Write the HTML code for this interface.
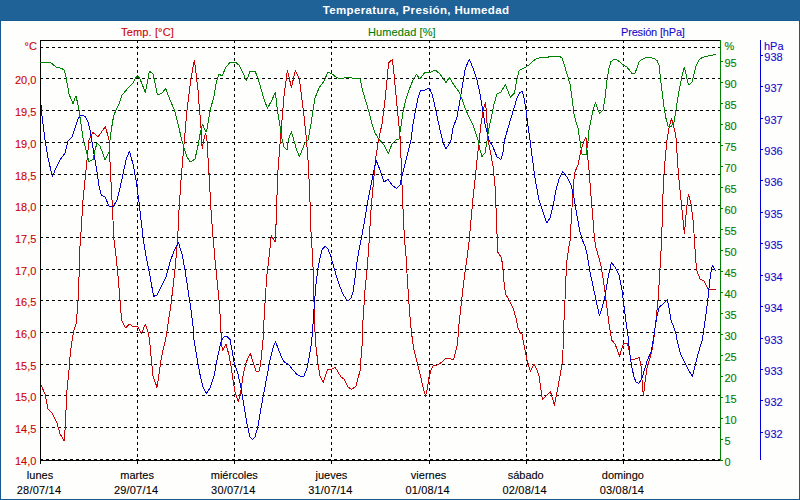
<!DOCTYPE html>
<html><head><meta charset="utf-8"><title>Temperatura, Presión, Humedad</title>
<style>
html,body{margin:0;padding:0;}
body{width:800px;height:500px;overflow:hidden;background:#17588e;position:relative;font-family:"Liberation Sans",sans-serif;font-size:11px;line-height:13px;}
#hdr{position:absolute;left:0;top:0;width:800px;height:20px;background:#1f6298;}
#hdr2{position:absolute;left:0;top:20px;width:800px;height:1px;background:#195a90;}
#pane{position:absolute;left:1px;top:21px;width:798px;height:478px;background:#fefefd;}
.t{position:absolute;white-space:nowrap;}
#title{left:216px;width:400px;top:4px;text-align:center;color:#fff;font-weight:bold;font-size:11.5px;letter-spacing:0.36px;}
.r{color:#cc0000;-webkit-text-stroke:0.1px #cc0000;} .g{color:#007c00;-webkit-text-stroke:0.1px #007c00;} .b{color:#1808cc;-webkit-text-stroke:0.1px #1808cc;} .k{color:#000;-webkit-text-stroke:0.1px #000;}
.la{width:36.4px;left:0;text-align:right;}
.c{text-align:center;width:80px;}
svg{position:absolute;left:0;top:0;}
</style></head><body>
<div id="hdr"></div><div id="hdr2"></div><div id="pane"></div>
<div id="title" class="t">Temperatura, Presión, Humedad</div>

<svg width="800" height="500" viewBox="0 0 800 500" shape-rendering="crispEdges">
<g stroke="#000" stroke-width="1" stroke-dasharray="3,3" fill="none">
<line x1="40" y1="459.5" x2="720" y2="459.5"/>
<line x1="40" y1="427.5" x2="720" y2="427.5"/>
<line x1="40" y1="395.5" x2="720" y2="395.5"/>
<line x1="40" y1="364.5" x2="720" y2="364.5"/>
<line x1="40" y1="332.5" x2="720" y2="332.5"/>
<line x1="40" y1="300.5" x2="720" y2="300.5"/>
<line x1="40" y1="269.5" x2="720" y2="269.5"/>
<line x1="40" y1="237.5" x2="720" y2="237.5"/>
<line x1="40" y1="205.5" x2="720" y2="205.5"/>
<line x1="40" y1="174.5" x2="720" y2="174.5"/>
<line x1="40" y1="142.5" x2="720" y2="142.5"/>
<line x1="40" y1="110.5" x2="720" y2="110.5"/>
<line x1="40" y1="78.5" x2="720" y2="78.5"/>
<line x1="40" y1="47.5" x2="720" y2="47.5"/>
<line x1="137.5" y1="40" x2="137.5" y2="460"/>
<line x1="234.5" y1="40" x2="234.5" y2="460"/>
<line x1="331.5" y1="40" x2="331.5" y2="460"/>
<line x1="429.5" y1="40" x2="429.5" y2="460"/>
<line x1="526.5" y1="40" x2="526.5" y2="460"/>
<line x1="623.5" y1="40" x2="623.5" y2="460"/>
</g>
<g stroke="#000" stroke-width="1" fill="none">
<line x1="40" y1="40.5" x2="720" y2="40.5"/>
<line x1="40.5" y1="40" x2="40.5" y2="461"/>
<line x1="40" y1="460.5" x2="720" y2="460.5"/>
<line x1="40.5" y1="461" x2="40.5" y2="464"/>
<line x1="137.5" y1="461" x2="137.5" y2="464"/>
<line x1="234.5" y1="461" x2="234.5" y2="464"/>
<line x1="331.5" y1="461" x2="331.5" y2="464"/>
<line x1="429.5" y1="461" x2="429.5" y2="464"/>
<line x1="526.5" y1="461" x2="526.5" y2="464"/>
<line x1="623.5" y1="461" x2="623.5" y2="464"/>
</g>
<polyline points="41.0,385.0 45.0,394.0 48.0,409.0 52.0,413.0 57.0,423.0 60.0,434.0 64.4,441.0 65.0,430.0 66.0,410.0 67.0,390.0 69.0,370.0 70.4,352.0 72.0,341.0 74.0,330.0 76.0,324.0 77.4,310.0 78.6,290.0 79.4,266.0 80.0,246.0 80.5,240.0 83.0,200.0 86.0,170.0 89.0,140.0 93.0,132.4 98.0,137.0 105.4,126.4 109.0,140.0 110.4,170.0 112.0,200.0 114.0,240.0 116.0,256.0 118.0,276.0 120.0,300.0 121.6,320.0 125.4,328.0 129.4,324.0 133.4,327.0 137.4,326.0 141.4,333.6 145.4,324.0 148.0,332.0 149.6,340.0 151.0,356.0 153.0,376.0 157.0,387.4 159.0,374.0 161.0,360.0 163.0,350.0 165.6,340.0 168.0,324.0 171.0,304.0 173.4,284.0 175.4,266.0 177.0,246.0 177.6,240.0 179.0,210.0 181.0,180.0 183.0,156.0 184.4,140.0 187.0,110.0 191.0,78.0 194.4,60.0 198.0,90.0 198.6,100.0 199.8,112.0 201.0,127.6 201.6,142.0 202.3,148.6 203.4,142.0 204.6,136.0 205.8,133.6 207.0,140.8 207.6,154.0 208.2,160.0 209.4,180.0 211.0,210.0 212.4,230.0 213.3,240.0 215.0,260.0 217.0,280.0 219.0,300.0 220.4,320.0 221.4,340.0 222.4,351.0 226.0,344.4 229.0,355.0 231.0,366.0 233.0,380.0 235.0,392.0 238.4,402.0 241.0,390.0 243.0,376.0 245.6,364.0 248.0,358.0 250.4,353.6 253.0,362.0 256.0,371.0 259.4,371.0 261.0,360.0 262.4,346.0 263.0,340.0 264.0,320.0 265.4,296.0 267.0,274.0 268.4,263.0 269.4,253.4 270.4,244.0 271.3,235.6 275.2,242.4 275.6,231.0 276.6,215.0 276.8,200.0 278.0,170.0 280.0,144.0 280.5,140.0 282.0,120.0 284.0,96.0 287.4,70.4 291.4,87.4 295.4,70.4 299.4,79.0 302.0,100.0 304.0,116.0 306.5,140.0 308.0,160.0 309.6,190.0 310.6,220.0 311.3,240.0 312.4,252.0 313.4,276.0 314.0,302.0 314.6,320.0 315.3,340.0 316.6,352.0 318.0,364.0 320.0,376.0 323.4,382.4 325.0,377.0 327.4,370.0 332.0,369.0 335.4,367.6 338.0,372.0 341.0,377.0 344.0,379.0 348.0,387.0 351.6,389.6 356.0,386.0 358.0,378.0 360.0,371.0 361.0,358.0 362.0,346.0 362.4,340.0 363.0,320.0 365.0,290.0 367.0,270.0 368.4,252.0 369.2,240.0 371.0,210.0 374.0,176.0 376.0,156.0 378.5,140.0 382.0,124.0 385.0,100.0 387.0,80.0 388.6,63.0 392.4,59.4 394.4,78.0 397.0,106.0 399.0,126.0 400.4,140.0 401.4,170.0 402.6,200.0 404.0,230.0 404.6,240.0 406.0,256.0 407.4,280.0 409.0,304.0 410.6,324.0 412.4,340.0 414.0,350.0 417.0,362.0 420.0,374.0 423.0,387.0 425.6,396.4 427.4,388.0 429.0,377.0 431.0,370.0 433.4,365.6 437.0,365.0 440.0,363.6 443.0,361.0 446.0,358.4 450.0,358.4 453.4,360.0 455.0,354.0 457.0,346.0 457.8,340.0 459.0,324.0 461.0,306.0 463.0,288.0 465.0,272.0 467.0,258.0 469.2,240.0 471.0,220.0 473.0,198.0 475.0,180.0 477.0,160.0 479.2,140.0 481.0,124.0 483.4,109.0 485.4,102.4 486.4,112.0 488.0,140.0 490.0,150.0 493.0,166.0 495.0,186.0 496.4,216.0 497.2,240.0 497.6,252.0 501.6,258.0 503.0,270.0 504.4,286.0 505.6,294.0 509.0,300.0 513.0,308.0 516.0,318.0 518.0,328.0 520.0,332.5 522.0,334.0 523.0,340.0 525.0,350.0 527.0,360.0 530.4,371.6 534.0,364.4 537.0,370.0 539.0,376.0 541.0,390.0 542.4,399.4 546.0,396.0 550.4,391.6 552.4,398.0 554.4,405.6 557.0,392.0 560.0,376.0 562.0,364.0 563.0,350.0 563.4,340.0 564.0,320.0 565.0,300.0 566.0,276.0 567.0,260.0 569.0,246.0 570.2,240.0 571.4,216.0 573.0,194.0 574.4,173.0 578.0,165.0 581.0,150.0 584.5,140.0 586.0,137.6 587.0,150.0 589.0,170.0 591.0,196.0 593.0,220.0 594.6,240.0 596.0,248.0 599.0,258.0 601.0,266.0 603.0,278.0 605.0,292.0 607.0,308.0 609.0,324.0 611.0,336.0 611.6,340.0 615.0,344.0 617.0,349.0 619.4,356.4 621.4,350.0 623.4,343.6 627.4,343.6 629.0,350.0 631.0,359.4 635.0,359.0 639.4,357.4 641.0,366.0 642.0,380.0 643.4,396.0 645.0,382.0 647.0,368.0 650.0,358.0 652.0,350.0 653.6,340.0 656.0,320.0 658.0,300.0 659.4,280.0 660.4,260.0 661.4,246.0 661.7,240.0 662.2,220.0 663.0,194.0 664.0,174.0 665.4,156.0 667.0,140.0 669.0,128.0 671.4,118.4 673.0,124.0 675.0,132.0 676.3,140.0 677.4,160.0 679.0,180.0 681.0,200.0 682.6,216.0 684.4,234.0 686.4,210.0 688.4,194.0 691.0,204.0 693.0,220.0 694.5,240.0 695.4,256.0 696.6,270.0 700.0,279.0 704.0,281.0 706.0,285.0 708.6,289.6 712.0,289.0 715.6,289.0" fill="none" stroke="#cc0000" stroke-width="1" stroke-linejoin="bevel"/>
<polyline points="41.0,105.0 42.4,120.0 43.0,124.0 45.0,140.0 48.0,158.0 52.4,176.4 56.0,168.0 60.0,160.0 65.0,153.0 68.0,141.0 72.0,137.0 75.0,128.0 78.0,119.0 81.0,115.0 85.0,116.4 88.0,122.0 90.0,130.0 91.6,140.0 94.0,154.0 97.0,172.0 99.0,186.0 101.4,195.0 105.0,197.0 109.0,206.0 113.0,207.0 117.0,200.0 120.0,188.0 123.0,174.0 126.0,160.0 129.4,151.0 133.0,164.0 136.0,180.0 139.0,202.0 141.0,220.0 143.4,240.0 146.0,256.0 150.0,276.0 153.6,296.4 157.0,295.0 162.0,285.0 166.0,277.0 170.0,262.0 174.0,251.0 178.4,242.4 182.0,254.0 185.0,270.0 188.0,290.0 191.0,310.0 193.0,326.0 194.0,340.0 196.0,352.0 198.0,364.0 200.0,374.5 203.0,387.0 206.4,393.6 210.0,388.0 214.0,376.0 217.0,360.0 220.0,346.0 221.6,340.0 224.0,337.0 227.0,336.6 230.0,339.5 232.0,350.0 234.0,362.0 238.0,374.0 241.0,388.0 244.0,406.0 247.0,424.0 250.0,437.0 252.4,439.6 255.0,437.0 258.0,426.0 261.0,408.0 264.0,392.0 267.0,376.0 270.0,360.0 273.0,348.0 275.4,341.6 278.0,348.0 281.0,356.0 284.0,361.6 289.0,365.0 293.0,370.0 297.0,374.4 301.0,376.6 304.0,376.0 307.0,368.0 309.0,358.0 311.0,346.0 311.8,340.0 313.0,324.0 314.4,304.0 316.0,284.0 318.0,268.0 320.0,258.0 322.4,249.0 325.0,246.4 328.0,249.0 331.0,257.0 334.0,268.0 337.0,278.0 340.0,287.0 343.0,294.0 346.0,299.0 348.4,301.0 351.0,298.0 353.0,292.0 355.0,278.0 357.0,262.0 359.0,250.0 360.0,245.0 361.0,240.0 364.0,224.0 368.0,200.0 372.0,180.0 376.0,160.0 380.0,170.0 384.0,182.0 388.0,179.4 392.0,185.0 396.4,188.4 400.0,185.0 403.0,172.0 407.0,156.0 411.0,140.0 413.0,124.0 416.0,108.0 418.0,98.0 420.4,91.0 425.0,90.0 429.4,88.0 432.0,94.0 434.0,102.0 437.0,116.0 440.0,130.0 442.4,140.0 445.6,149.0 450.0,143.0 451.0,140.0 453.0,128.0 457.0,117.0 460.0,100.0 463.0,82.0 465.4,68.0 469.4,59.4 473.0,68.0 477.0,80.0 480.0,94.0 482.0,106.0 485.0,124.0 488.0,136.0 489.0,140.0 493.0,147.0 497.0,157.0 501.0,159.4 503.0,152.0 504.6,140.0 508.0,128.0 511.0,118.0 514.0,108.0 517.0,98.0 520.0,92.2 522.4,91.6 524.0,98.0 526.0,110.0 528.0,126.0 530.0,139.5 532.0,156.0 535.0,178.0 539.0,200.0 543.0,212.0 546.6,223.0 550.0,218.0 553.0,206.0 556.0,190.0 559.0,179.0 562.6,171.4 567.0,177.0 571.0,185.0 574.0,198.0 577.0,216.0 580.0,232.0 582.4,240.0 585.0,246.0 587.4,256.0 590.0,272.0 593.0,286.0 596.0,300.0 599.4,315.6 602.4,307.0 605.0,296.0 608.0,278.0 611.4,262.4 615.0,267.0 619.0,275.0 622.0,290.0 624.0,306.0 626.0,322.0 628.0,336.0 628.5,340.0 629.6,352.0 631.6,366.0 634.0,377.0 636.0,382.0 639.0,383.4 642.0,378.0 645.0,368.0 647.4,360.0 651.0,352.0 652.6,344.0 653.2,340.0 655.0,328.0 657.0,316.0 659.4,307.0 663.0,304.0 667.4,299.4 669.0,308.0 671.0,320.0 674.0,328.0 676.0,334.0 677.0,340.0 679.0,348.0 681.0,355.0 684.0,361.0 688.0,369.0 692.4,376.4 695.0,366.0 698.0,354.0 701.0,344.0 702.4,340.0 704.0,328.0 706.0,314.0 708.0,298.0 709.4,284.0 711.0,272.0 712.4,265.6 714.0,268.0 715.6,271.0" fill="none" stroke="#0000d4" stroke-width="1" stroke-linejoin="bevel"/>
<polyline points="40.0,62.4 44.0,63.0 49.0,62.0 52.0,63.6 56.0,67.0 60.0,68.0 64.0,69.6 66.0,77.0 69.0,94.0 73.0,103.6 76.0,95.6 79.0,110.0 81.0,124.0 83.3,140.0 86.0,150.0 89.0,161.6 93.0,159.6 95.0,150.0 97.0,143.0 100.0,146.0 103.0,154.0 105.0,160.0 109.0,152.0 110.0,140.0 111.6,128.0 113.6,116.0 116.0,110.0 119.0,104.0 122.0,95.2 125.5,91.0 129.0,87.0 133.0,83.0 137.4,75.0 140.0,79.0 145.4,92.4 149.4,71.4 153.0,73.6 157.4,95.0 162.0,93.0 165.6,88.4 170.0,100.0 174.4,110.0 178.0,124.0 181.8,140.0 184.0,148.0 187.0,157.0 190.4,162.0 195.0,159.0 197.0,150.0 198.0,145.6 200.4,132.4 202.4,124.0 204.0,127.6 206.0,131.8 207.0,128.8 208.8,118.0 210.6,108.4 213.0,100.0 214.0,96.0 216.4,82.0 219.0,74.0 222.0,76.0 226.0,67.0 230.0,62.6 235.0,62.0 239.0,65.0 243.0,73.0 246.4,81.0 250.0,71.6 255.0,71.4 258.0,78.0 261.0,89.0 264.0,99.0 267.4,108.4 272.0,100.0 275.4,92.0 277.0,107.0 279.0,120.0 282.0,139.0 284.0,147.0 287.0,150.0 288.2,140.0 291.4,131.6 293.8,140.0 296.0,148.0 299.4,157.0 302.0,150.0 305.0,143.0 308.0,140.0 311.0,124.0 313.0,110.0 315.0,98.0 319.0,88.0 324.0,81.0 328.0,72.0 332.0,74.0 336.0,77.0 340.0,79.0 344.0,78.0 349.0,77.4 354.0,78.4 360.0,79.0 363.0,92.0 366.0,102.0 369.0,112.0 372.0,124.0 375.0,133.0 379.5,140.0 384.0,145.0 388.4,153.4 392.0,144.0 396.0,140.0 399.0,139.0 401.0,126.0 403.0,112.0 406.0,99.0 409.0,90.0 413.0,80.0 416.4,74.4 420.0,79.0 425.0,72.0 429.0,73.0 435.0,70.0 439.0,73.0 443.0,78.0 446.0,82.4 449.4,77.6 454.0,85.0 459.0,92.0 462.0,99.0 465.0,108.0 469.0,117.0 473.0,125.0 476.0,134.0 478.0,140.0 480.0,150.0 482.0,156.4 485.0,153.0 487.0,141.0 489.0,128.0 492.0,114.0 494.0,104.0 497.0,94.0 501.0,92.0 505.4,84.4 510.4,97.4 514.4,93.0 517.0,79.0 519.0,71.0 520.0,70.2 524.0,68.0 529.0,65.0 533.0,61.0 537.0,58.4 542.0,57.6 547.0,57.6 550.0,56.4 555.0,56.0 559.0,56.0 562.0,58.0 564.0,64.0 567.0,74.0 570.0,84.0 572.0,98.0 574.0,114.0 576.0,122.0 578.0,128.0 579.8,140.0 582.0,154.0 586.0,155.0 588.0,141.0 589.0,130.0 591.0,120.0 593.0,110.0 595.4,102.6 597.0,107.0 599.4,113.4 603.0,110.0 605.0,98.0 607.0,80.0 609.0,68.0 611.0,61.6 614.0,59.4 617.0,60.0 620.0,62.0 623.4,65.0 627.0,67.0 630.0,71.0 632.0,73.4 635.0,73.0 637.0,68.0 639.0,62.0 642.0,59.4 646.0,57.6 650.0,57.4 654.0,58.4 657.0,60.5 659.0,65.0 660.0,74.0 662.0,91.0 664.0,107.0 666.0,118.5 668.0,126.0 671.0,127.0 674.0,122.0 676.0,110.0 678.0,97.0 680.0,86.0 682.0,76.0 684.4,67.0 686.4,76.0 688.4,85.0 692.0,82.4 694.0,74.0 696.0,66.0 699.0,60.0 702.0,57.6 706.0,56.4 711.0,55.4 715.6,54.4" fill="none" stroke="#008000" stroke-width="1" stroke-linejoin="bevel"/>
<g stroke="#008000" stroke-width="1" fill="none">
<line x1="720.5" y1="40" x2="720.5" y2="461"/>
<line x1="721" y1="460.5" x2="723" y2="460.5"/>
<line x1="721" y1="439.5" x2="723" y2="439.5"/>
<line x1="721" y1="418.5" x2="723" y2="418.5"/>
<line x1="721" y1="397.5" x2="723" y2="397.5"/>
<line x1="721" y1="376.5" x2="723" y2="376.5"/>
<line x1="721" y1="355.5" x2="723" y2="355.5"/>
<line x1="721" y1="334.5" x2="723" y2="334.5"/>
<line x1="721" y1="313.5" x2="723" y2="313.5"/>
<line x1="721" y1="292.5" x2="723" y2="292.5"/>
<line x1="721" y1="271.5" x2="723" y2="271.5"/>
<line x1="721" y1="250.5" x2="723" y2="250.5"/>
<line x1="721" y1="229.5" x2="723" y2="229.5"/>
<line x1="721" y1="208.5" x2="723" y2="208.5"/>
<line x1="721" y1="187.5" x2="723" y2="187.5"/>
<line x1="721" y1="166.5" x2="723" y2="166.5"/>
<line x1="721" y1="145.5" x2="723" y2="145.5"/>
<line x1="721" y1="124.5" x2="723" y2="124.5"/>
<line x1="721" y1="103.5" x2="723" y2="103.5"/>
<line x1="721" y1="82.5" x2="723" y2="82.5"/>
<line x1="721" y1="61.5" x2="723" y2="61.5"/>
</g>
<g stroke="#0000d4" stroke-width="1" fill="none">
<line x1="760.5" y1="40" x2="760.5" y2="460"/>
<line x1="761" y1="55.5" x2="763" y2="55.5"/>
<line x1="761" y1="86.5" x2="763" y2="86.5"/>
<line x1="761" y1="118.5" x2="763" y2="118.5"/>
<line x1="761" y1="149.5" x2="763" y2="149.5"/>
<line x1="761" y1="180.5" x2="763" y2="180.5"/>
<line x1="761" y1="212.5" x2="763" y2="212.5"/>
<line x1="761" y1="243.5" x2="763" y2="243.5"/>
<line x1="761" y1="275.5" x2="763" y2="275.5"/>
<line x1="761" y1="306.5" x2="763" y2="306.5"/>
<line x1="761" y1="338.5" x2="763" y2="338.5"/>
<line x1="761" y1="369.5" x2="763" y2="369.5"/>
<line x1="761" y1="400.5" x2="763" y2="400.5"/>
<line x1="761" y1="432.5" x2="763" y2="432.5"/>
</g>
</svg>
<div class="t r" style="left:121px;top:26px;letter-spacing:0.15px">Temp. [°C]</div>
<div class="t g" style="left:368px;top:26px;letter-spacing:0.1px">Humedad [%]</div>
<div class="t b" style="left:621px;top:26px;letter-spacing:-0.18px">Presión [hPa]</div>
<div class="t r la" style="top:40px;left:0.5px">°C</div>
<div class="t r la" style="top:455px;">14,0</div>
<div class="t r la" style="top:423px;">14,5</div>
<div class="t r la" style="top:391px;">15,0</div>
<div class="t r la" style="top:360px;">15,5</div>
<div class="t r la" style="top:328px;">16,0</div>
<div class="t r la" style="top:296px;">16,5</div>
<div class="t r la" style="top:265px;">17,0</div>
<div class="t r la" style="top:233px;">17,5</div>
<div class="t r la" style="top:201px;">18,0</div>
<div class="t r la" style="top:170px;">18,5</div>
<div class="t r la" style="top:138px;">19,0</div>
<div class="t r la" style="top:106px;">19,5</div>
<div class="t r la" style="top:74px;">20,0</div>
<div class="t g" style="left:724.5px;top:40px;">%</div>
<div class="t g" style="left:724.5px;top:456px;">0</div>
<div class="t g" style="left:724.5px;top:435px;">5</div>
<div class="t g" style="left:724.5px;top:414px;">10</div>
<div class="t g" style="left:724.5px;top:393px;">15</div>
<div class="t g" style="left:724.5px;top:372px;">20</div>
<div class="t g" style="left:724.5px;top:351px;">25</div>
<div class="t g" style="left:724.5px;top:330px;">30</div>
<div class="t g" style="left:724.5px;top:309px;">35</div>
<div class="t g" style="left:724.5px;top:288px;">40</div>
<div class="t g" style="left:724.5px;top:267px;">45</div>
<div class="t g" style="left:724.5px;top:246px;">50</div>
<div class="t g" style="left:724.5px;top:225px;">55</div>
<div class="t g" style="left:724.5px;top:204px;">60</div>
<div class="t g" style="left:724.5px;top:183px;">65</div>
<div class="t g" style="left:724.5px;top:162px;">70</div>
<div class="t g" style="left:724.5px;top:141px;">75</div>
<div class="t g" style="left:724.5px;top:120px;">80</div>
<div class="t g" style="left:724.5px;top:99px;">85</div>
<div class="t g" style="left:724.5px;top:78px;">90</div>
<div class="t g" style="left:724.5px;top:57px;">95</div>
<div class="t b" style="left:764px;top:40px;">hPa</div>
<div class="t b" style="left:764.3px;top:51px;">938</div>
<div class="t b" style="left:764.3px;top:82px;">937</div>
<div class="t b" style="left:764.3px;top:114px;">937</div>
<div class="t b" style="left:764.3px;top:145px;">936</div>
<div class="t b" style="left:764.3px;top:176px;">936</div>
<div class="t b" style="left:764.3px;top:208px;">935</div>
<div class="t b" style="left:764.3px;top:239px;">935</div>
<div class="t b" style="left:764.3px;top:271px;">934</div>
<div class="t b" style="left:764.3px;top:302px;">934</div>
<div class="t b" style="left:764.3px;top:334px;">933</div>
<div class="t b" style="left:764.3px;top:365px;">933</div>
<div class="t b" style="left:764.3px;top:396px;">932</div>
<div class="t b" style="left:764.3px;top:428px;">932</div>
<div class="t k c" style="left:0.0px;top:469px;">lunes</div>
<div class="t k c" style="left:-1.0px;top:484px;letter-spacing:0.2px;">28/07/14</div>
<div class="t k c" style="left:97.1px;top:469px;">martes</div>
<div class="t k c" style="left:96.1px;top:484px;letter-spacing:0.2px;">29/07/14</div>
<div class="t k c" style="left:194.3px;top:469px;">miércoles</div>
<div class="t k c" style="left:193.3px;top:484px;letter-spacing:0.2px;">30/07/14</div>
<div class="t k c" style="left:291.4px;top:469px;">jueves</div>
<div class="t k c" style="left:290.4px;top:484px;letter-spacing:0.2px;">31/07/14</div>
<div class="t k c" style="left:388.6px;top:469px;">viernes</div>
<div class="t k c" style="left:387.6px;top:484px;letter-spacing:0.2px;">01/08/14</div>
<div class="t k c" style="left:485.7px;top:469px;">sábado</div>
<div class="t k c" style="left:484.7px;top:484px;letter-spacing:0.2px;">02/08/14</div>
<div class="t k c" style="left:582.9px;top:469px;">domingo</div>
<div class="t k c" style="left:581.9px;top:484px;letter-spacing:0.2px;">03/08/14</div>
</body></html>
